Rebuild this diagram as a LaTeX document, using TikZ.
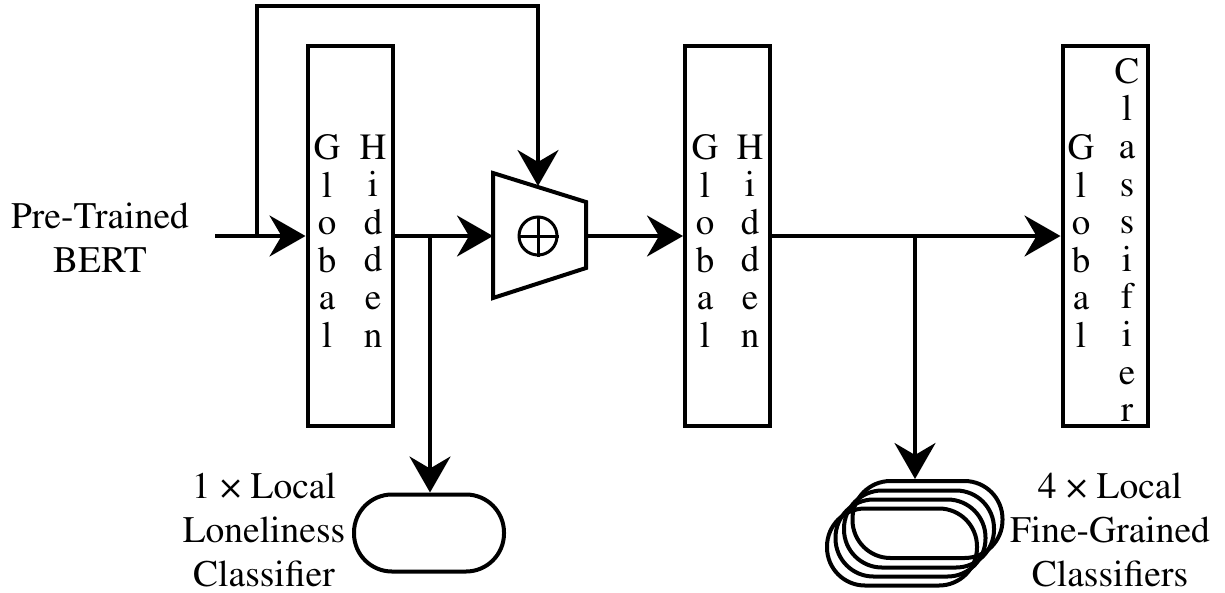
\documentclass[tikz,border=0pt]{standalone}
\usepackage[T1]{fontenc}
\usepackage{textcomp}
\usepackage{times}
\usetikzlibrary{arrows.meta}
\begin{document}
\begin{tikzpicture}[x=1pt,y=-1pt,line width=4pt,
  arr/.style={-{Stealth[length=36pt,width=41pt,inset=12pt]}},
  box/.style={draw,rectangle,minimum width=85pt,minimum height=380pt,inner sep=0pt},
  col/.style={align=center,inner sep=0pt,font=\fontsize{37}{37.6}\selectfont},
  lbl/.style={align=center,inner sep=0pt,font=\fontsize{37.5}{44}\selectfont},
  stad/.style={draw,rectangle,rounded corners=38pt,minimum width=150pt,minimum height=77pt,inner sep=0pt}]
\useasboundingbox (0,0) rectangle (1225,592);

% boxes
\node[box] (h1) at (350,236) {};
\node[box] (h2) at (727.5,236) {};
\node[box] (h3) at (1105,236) {};
\node[col] (h1a) at (327,241) {G\\l\\o\\b\\a\\l};
\node[col] (h1b) at (373,241) {H\\i\\d\\d\\e\\n};
\node[col] (h2a) at (705,241) {G\\l\\o\\b\\a\\l};
\node[col] (h2b) at (750,241) {H\\i\\d\\d\\e\\n};
\node[col] (h3a) at (1081,241) {G\\l\\o\\b\\a\\l};
\node[col] (h3b) at (1127,240) {C\\l\\a\\s\\s\\i\\f\\i\\e\\r};

% input
\node[lbl] (bert) at (100,238) {Pre-Trained\\BERT};
\coordinate (in) at (215,236);
\coordinate (fb) at (257,236);

% trapezoid
\coordinate (tl) at (493,173);
\coordinate (tr) at (586,202);
\coordinate (br) at (586,268);
\coordinate (bl) at (493,298);
\coordinate (tin) at (493,236);
\coordinate (tout) at (586,236);
\coordinate (ttop) at (538,186);
\draw[line join=miter] (tl) -- (tr) -- (br) -- (bl) -- cycle;
\node[draw,circle,minimum size=38pt,inner sep=0pt,line width=3pt] (plus) at (538,236) {};
\draw[line width=3pt] (plus.north) -- (plus.south) (plus.west) -- (plus.east);

% classifiers
\node[stad] (l1) at (429,533) {};
\node[stad] (f1) at (902,547) {};
\node[stad] (f2) at (910.5,538) {};
\node[stad] (f3) at (919,529) {};
\node[stad] (f4) at (927.5,519.5) {};
\node[lbl] (lab1) at (264,530) {1 \texttimes{} Local\\Loneliness\\Classifier};
\node[lbl] (lab2) at (1110,530) {4 \texttimes{} Local\\Fine-Grained\\Classifiers};

\coordinate (b1) at (430,236);
\coordinate (b2) at (915,236);

% connectors
\draw[arr] (in) -- (h1.west |- in);
\draw[arr,line join=miter] (fb) -- (257,6) -- (538,6) -- (ttop);
\draw[arr] (h1.east |- in) -- (tin);
\draw[arr] (b1) -- (b1 |- l1.north);
\draw[arr] (tout) -- (h2.west |- tout);
\draw[arr] (h2.east |- tout) -- (h3.west |- tout);
\draw[arr] (b2) -- (b2 |- f4.north);
\end{tikzpicture}
\end{document}
